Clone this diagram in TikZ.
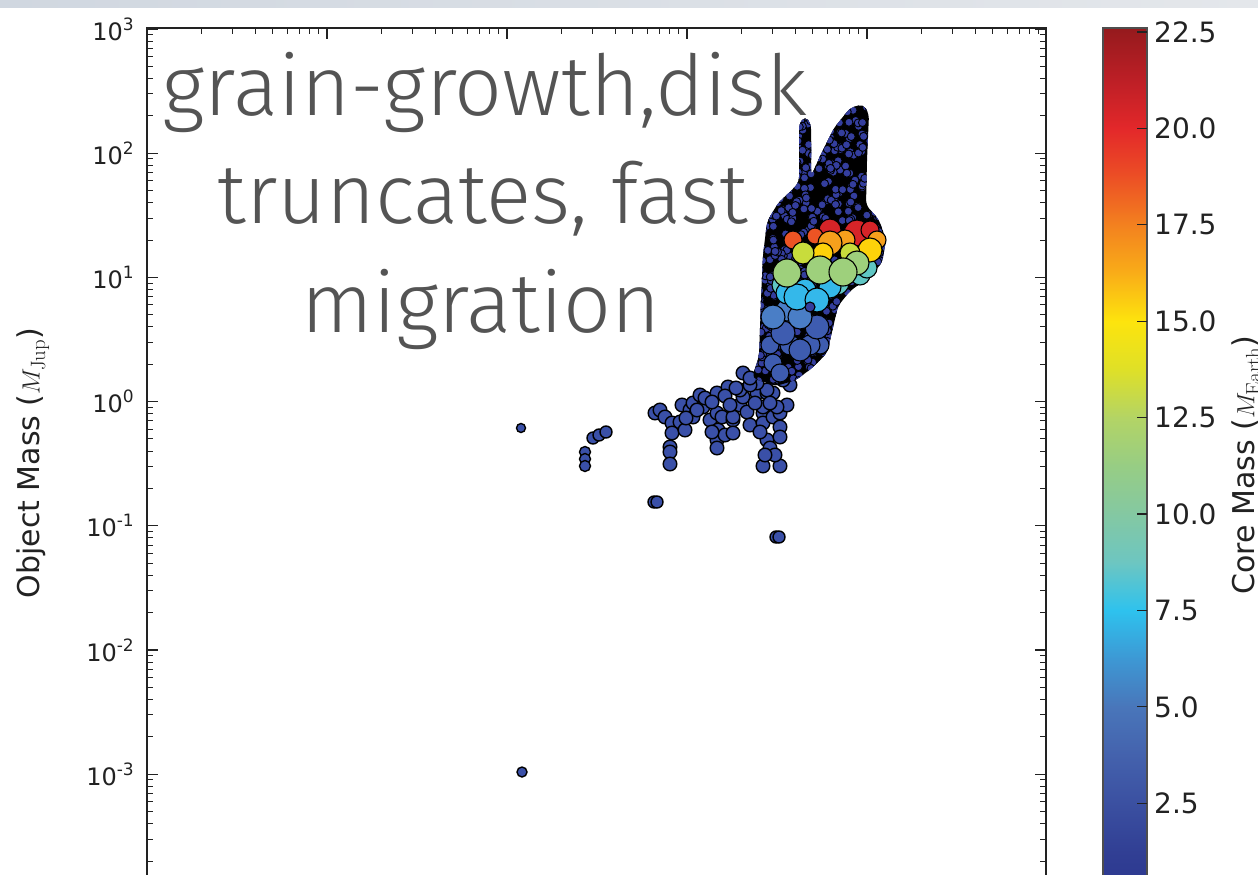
\documentclass[tikz,border=0pt]{standalone}
\usepackage[no-math]{fontspec}
\setmainfont{DejaVu Sans}
\newfontfamily\slidefont{Fira Sans Light}
\usepackage{xcolor}
\usetikzlibrary{calc}

\definecolor{axisink}{RGB}{34,34,34}
\definecolor{textgray}{RGB}{84,84,84}
\definecolor{bandL}{RGB}{208,215,224}
\definecolor{bandR}{RGB}{228,231,235}
\definecolor{dotnavy}{RGB}{52,62,158}
\definecolor{branchblue}{RGB}{58,80,168}
\definecolor{midblue}{RGB}{62,92,176}
\definecolor{skyblue}{RGB}{74,126,198}
\definecolor{cyanc}{RGB}{52,184,234}
\definecolor{tealc}{RGB}{96,198,196}
\definecolor{greenc}{RGB}{158,208,124}
\definecolor{limec}{RGB}{200,220,60}
\definecolor{yellowc}{RGB}{253,210,10}
\definecolor{orangec}{RGB}{246,160,28}
\definecolor{redorange}{RGB}{236,84,36}
\definecolor{redc}{RGB}{214,36,40}
% colour bar stops
\definecolor{cb0}{HTML}{951A1D}
\definecolor{cb1}{HTML}{BD1F26}
\definecolor{cb2}{HTML}{E3282A}
\definecolor{cb3}{HTML}{EC4F25}
\definecolor{cb4}{HTML}{F3811F}
\definecolor{cb5}{HTML}{F9AD18}
\definecolor{cb6}{HTML}{FDE40D}
\definecolor{cb7}{HTML}{DFE027}
\definecolor{cb8}{HTML}{B3D465}
\definecolor{cb9}{HTML}{97CD84}
\definecolor{cb10}{HTML}{84C8A2}
\definecolor{cb11}{HTML}{6DC6C1}
\definecolor{cb12}{HTML}{2EC2EE}
\definecolor{cb13}{HTML}{3D98D4}
\definecolor{cb14}{HTML}{4976BA}
\definecolor{cb15}{HTML}{4462AD}
\definecolor{cb16}{HTML}{3B50A1}
\definecolor{cb17}{HTML}{313F94}
\definecolor{cb18}{HTML}{2D3990}

\tikzset{
  ticklabel/.style={inner sep=0pt, text=axisink, font=\fontsize{24}{26}\selectfont},
  barlabel/.style={inner sep=0pt, anchor=west, text=axisink, font=\fontsize{28}{30}\selectfont},
  axislabel/.style={rotate=90, inner sep=0pt, text=axisink, font=\fontsize{30}{32}\selectfont},
  slidetext/.style={inner sep=0pt, anchor=base, text=textgray, font=\slidefont\fontsize{84}{100}\selectfont},
  navydot/.style={draw=black, line width=0.9pt, fill=dotnavy},
  branchdot/.style={draw=black, line width=1.4pt, fill=branchblue},
  bigdot/.style={draw=black, line width=1.1pt, fill=#1}
}
\def\blobpath{(799,124) -- (805,116) -- (811,124) -- (811,176) -- (822,152) -- (834,128) -- (850,108) -- (863,104) -- (869,114) -- (867,160) -- (866,205) -- (879,220) -- (886,240) -- (882,263) -- (868,278) -- (850,291) -- (838,306) -- (832,332) -- (827,353) -- (812,368) -- (796,380) -- (776,386) -- (752,378) -- (759,356) -- (761,300) -- (763,255) -- (767,222) -- (778,203) -- (792,190) -- (799,182) -- cycle}

\begin{document}
\begin{tikzpicture}[x=1pt, y=-1pt,
    major/.style={line width=1.2pt, axisink},
    minor/.style={line width=1pt, axisink}]
  \fill[white] (0,0) rectangle (1258,875);
  \useasboundingbox (0,0) rectangle (1258,875);
  \shade[left color=bandL, right color=bandR] (0,0) rectangle (1258,8);

  % frame
  \draw[line width=1.8pt, axisink] (147,880) -- (147,28) -- (1046,28) -- (1046,880);

  % y axis, log scale
  \foreach \d in {3,2,1,0,-1,-2,-3} {
    \pgfmathsetmacro\yy{29+(3-\d)*124.2}
    \draw[major] (147,\yy) -- (158,\yy);
    \draw[major] (1046,\yy) -- (1035,\yy);
    \node [ticklabel, anchor=east] at (134,\yy) (ytick\d)
      {10\raisebox{0.42em}{\fontsize{17}{17}\selectfont\d}};
  }
  \foreach \d in {-4,...,2} {
    \foreach \k in {2,...,9} {
      \pgfmathsetmacro\yy{29+(3-\d-log10(\k))*124.2}
      \draw[minor] (147,\yy) -- (153,\yy);
      \draw[minor] (1046,\yy) -- (1040,\yy);
    }
  }
  % x axis ticks along the top
  \foreach \e in {1,...,4}
    \draw[major] (147+180*\e,28) -- (147+180*\e,39);
  \foreach \e in {0,...,4} {
    \foreach \k in {2,...,9} {
      \pgfmathsetmacro\xx{147+(\e+log10(\k))*180}
      \draw[minor] (\xx,28) -- (\xx,34);
    }
  }

  \node [axislabel] at (33,463) (ylabel) {Object Mass ($M_{\mathrm{Jup}}$)};

  % scattered objects
  \foreach \px/\py/\r in {521/428/4.5, 522/772/5, 585/452/5.5, 585/459/5.5, 585/466/5.5,
      593/438/6, 599/435/6, 606/432/6, 654/502/6, 657/502/6, 776/537/6, 779/537/6}
    \filldraw[branchdot] (\px,\py) circle (\r pt);
  \foreach \px/\py in {655/413, 660/410, 665/417, 672/423, 680/422, 672/433, 685/430,
      682/405, 690/410, 693/403, 700/395, 703/407, 705/398, 693/417, 710/420, 717/393,
      728/387, 717/413, 718/430, 717/440, 725/435, 717/448, 722/417, 733/420, 740/405,
      747/412, 750/425, 743/397, 757/393, 767/393, 763/413, 763/423, 773/417, 780/413,
      780/427, 767/440, 780/437, 770/448, 787/405, 790/385, 773/393, 670/447, 670/452,
      670/464, 763/466, 780/466, 767/390, 783/380, 757/383, 743/373, 740/390, 763/407,
      777/407, 733/417, 733/433, 712/402, 725/396, 736/388, 750/385, 697/410, 686/418,
      755/403, 770/403, 760/432, 775/455, 765/455, 712/432, 750/378, 730/405}
    \filldraw[branchdot] (\px,\py) circle (6.8pt);

  % dense cloud
  \fill[black, rounded corners=5pt] \blobpath;
  \begin{scope}
    \clip[rounded corners=5pt] \blobpath;
    \pgfmathsetseed{7}
    \foreach \i in {1,...,650} {
      \pgfmathsetmacro\px{752+rnd*135}
      \pgfmathsetmacro\py{104+rnd*285}
      \filldraw[navydot] (\px,\py) circle (4pt);
    }
  \end{scope}

  % large cores
  \foreach \px/\py/\r/\c in {770/345/9/midblue, 820/345/9/midblue, 773/363/9/midblue,
      780/373/9/midblue, 790/345/10/midblue, 810/345/10/midblue, 800/350/11/midblue,
      783/333/12/midblue, 817/327/12/midblue, 787/310/11/skyblue, 773/317/12/skyblue,
      800/317/12/skyblue, 783/285/11/tealc, 837/283/12/tealc, 860/275/10/tealc,
      867/268/10/tealc, 787/293/11/cyanc, 805/290/11/cyanc, 830/287/11/cyanc,
      797/297/13/cyanc, 817/300/12/cyanc, 810/307/5/dotnavy,
      857/233/13/redc, 830/230/11/redc, 870/230/9/redc, 793/240/9/redorange,
      815/236/8/redorange, 845/240/10/orangec, 877/240/9/orangec, 830/243/12/orangec,
      870/250/12/yellowc, 823/253/10/yellowc, 803/253/11/limec, 850/253/10/limec,
      857/263/12/greenc, 787/273/14/greenc, 820/270/14/greenc, 843/272/14/greenc}
    \filldraw[bigdot=\c] (\px,\py) circle (\r pt);

  % colour bar
  \foreach \ya/\yb/\ca/\cb in {28/80.2/cb0/cb1, 80.2/128.4/cb1/cb2, 128.4/176.6/cb2/cb3,
      176.6/224.9/cb3/cb4, 224.9/273.1/cb4/cb5, 273.1/321.3/cb5/cb6, 321.3/369.5/cb6/cb7,
      369.5/417.7/cb7/cb8, 417.7/465.9/cb8/cb9, 465.9/514.1/cb9/cb10, 514.1/562.4/cb10/cb11,
      562.4/610.6/cb11/cb12, 610.6/658.8/cb12/cb13, 658.8/707/cb13/cb14, 707/755.2/cb14/cb15,
      755.2/803.4/cb15/cb16, 803.4/851.6/cb16/cb17, 851.6/880/cb17/cb18}
    \shade[top color=\ca, bottom color=\cb] (1103,\ya-0.3) rectangle (1147,\yb+0.3);
  \draw[line width=1.2pt, axisink!80] (1103,880) -- (1103,28) -- (1147,28) -- (1147,880);
  \foreach \v [count=\n] in {22.5,20.0,17.5,15.0,12.5,10.0,7.5,5.0,2.5} {
    \pgfmathsetmacro\yy{32+(\n-1)*96.4}
    \draw[major] (1147,\yy) -- (1137,\yy);
    \node [barlabel] at (1154,\yy) (cbtick\n) {\v};
  }
  \node [axislabel] at (1246,465) (cblabel) {Core Mass ($M_{\mathrm{Earth}}$)};

  % slide text
  \node [slidetext] at (485,115) (line1) {grain-growth,disk};
  \node [slidetext] at (483,223) (line2) {truncates, fast};
  \node [slidetext] at (481,332) (line3) {migration};
\end{tikzpicture}
\end{document}
